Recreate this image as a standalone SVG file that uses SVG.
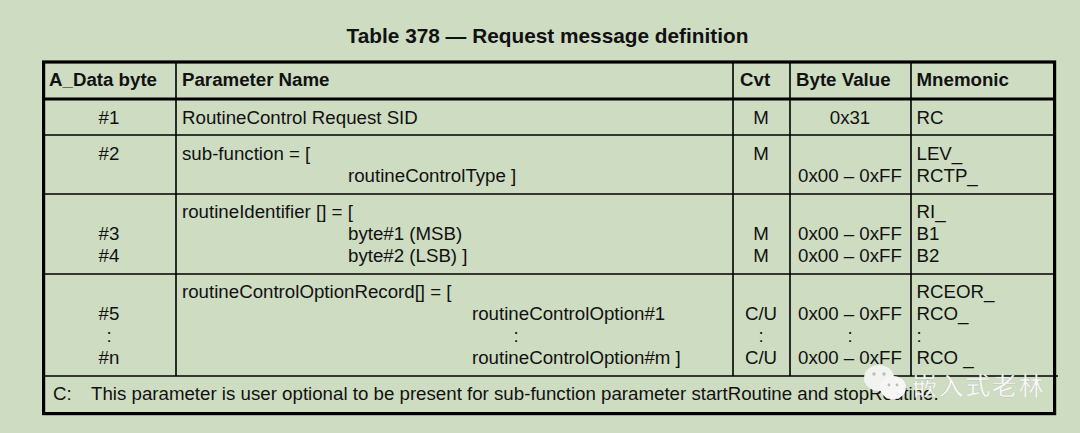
<svg xmlns="http://www.w3.org/2000/svg" width="1080" height="433" viewBox="0 0 1080 433">
<style>
text{font-family:"Liberation Sans",Arial,sans-serif;font-size:18.7px;fill:#111}
.b{font-weight:bold;font-size:18.7px}
.m{text-anchor:middle}
.thin{stroke:#000;stroke-width:1.6;fill:none}
.thick{stroke:#000;stroke-width:3.2;fill:none}
.wm{font-family:"Noto Sans CJK SC","Noto Sans",sans-serif;font-size:25px;fill:#fff;fill-opacity:.95;stroke:#888;stroke-width:.3;stroke-opacity:.5;letter-spacing:1.6px}
</style>
<rect width="1080" height="433" fill="#cedcc2"/>
<text class="b m" x="547.5" y="43" style="font-size:20.8px">Table 378 — Request message definition</text>
<g id="table">
<rect class="thick" x="43.6" y="62" width="1011" height="351.6"/>
<path class="thick" d="M43 99H1056"/>
<path class="thin" d="M176 62V376M733 62V376M790 62V376M911 62V376M44 135H1055M44 194H1055M44 274H1055M44 376H1058"/>
</g>
<g id="header">
<text class="b" x="49" y="86">A_Data byte</text>
<text class="b" x="182" y="86">Parameter Name</text>
<text class="b" x="740" y="86">Cvt</text>
<text class="b" x="796" y="86">Byte Value</text>
<text class="b" x="916.5" y="86">Mnemonic</text>
</g>
<g id="row1">
<text class="m" x="109" y="124">#1</text>
<text x="182" y="124">RoutineControl Request SID</text>
<text class="m" x="761" y="124">M</text>
<text class="m" x="850" y="124">0x31</text>
<text x="916.5" y="124">RC</text>
</g>
<g id="row2">
<text class="m" x="109" y="160">#2</text>
<text x="182" y="160">sub-function = [</text>
<text x="348" y="182">routineControlType ]</text>
<text class="m" x="761" y="160">M</text>
<text class="m" x="850" y="182">0x00 – 0xFF</text>
<text x="916.5" y="160">LEV_</text>
<text x="916.5" y="182">RCTP_</text>
</g>
<g id="row3">
<text x="182" y="218">routineIdentifier [] = [</text>
<text x="916.5" y="218">RI_</text>
<text class="m" x="109" y="240">#3</text>
<text x="348" y="240">byte#1 (MSB)</text>
<text class="m" x="761" y="240">M</text>
<text class="m" x="850" y="240">0x00 – 0xFF</text>
<text x="916.5" y="240">B1</text>
<text class="m" x="109" y="262">#4</text>
<text x="348" y="262">byte#2 (LSB) ]</text>
<text class="m" x="761" y="262">M</text>
<text class="m" x="850" y="262">0x00 – 0xFF</text>
<text x="916.5" y="262">B2</text>
</g>
<g id="row4">
<text x="182" y="298">routineControlOptionRecord[] = [</text>
<text x="916.5" y="298">RCEOR_</text>
<text class="m" x="109" y="320">#5</text>
<text x="472" y="320">routineControlOption#1</text>
<text class="m" x="761" y="320">C/U</text>
<text class="m" x="850" y="320">0x00 – 0xFF</text>
<text x="916.5" y="320">RCO_</text>
<text class="m" x="109" y="342">:</text>
<text class="m" x="516" y="342">:</text>
<text class="m" x="761" y="342">:</text>
<text class="m" x="850" y="342">:</text>
<text x="916.5" y="342">:</text>
<text class="m" x="109" y="364">#n</text>
<text x="472" y="364">routineControlOption#m ]</text>
<text class="m" x="761" y="364">C/U</text>
<text class="m" x="850" y="364">0x00 – 0xFF</text>
<text x="916.5" y="364">RCO _</text>
</g>
<g id="note">
<text x="53" y="400">C:</text>
<text x="91" y="400">This parameter is user optional to be present for sub-function parameter startRoutine and stopRoutine.</text>
</g>
<g id="watermark">
<ellipse cx="879" cy="378" rx="15" ry="13" fill="#f1f4ee"/>
<ellipse cx="893" cy="387.5" rx="13" ry="11.5" fill="#f6f7f4"/>
<circle cx="874" cy="374" r="1.7" fill="#bbb"/><circle cx="884" cy="374" r="1.7" fill="#bbb"/>
<circle cx="889" cy="385" r="1.4" fill="#bbb"/><circle cx="897" cy="385" r="1.4" fill="#bbb"/>
<text class="wm" x="912" y="395">嵌入式老林</text>
</g>
</svg>
